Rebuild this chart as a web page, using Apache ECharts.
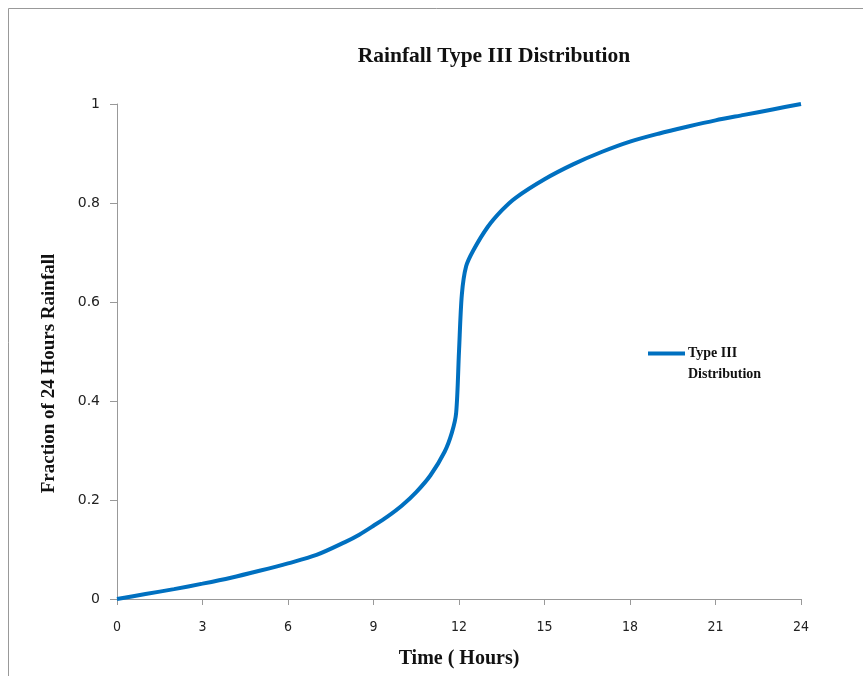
<!DOCTYPE html>
<html>
<head>
<meta charset="utf-8">
<script src="https://cdn.jsdelivr.net/npm/echarts@6/dist/echarts.min.js"></script>
<style>html,body{margin:0;padding:0;background:#fff;}#c{width:863px;height:676px;}</style>
</head>
<body>
<div id="c"></div>
<script>
const hours = [0,1,2,3,4,5,6,7,8,8.5,9,9.5,10,10.5,11,11.5,11.75,11.9,12,12.1,12.25,12.5,13,13.5,14,15,16,17,18,19,20,21,22,23,24];
const fraction = [0,0.010,0.020,0.031,0.043,0.057,0.072,0.089,0.115,0.130,0.148,0.167,0.189,0.216,0.250,0.298,0.336,0.376,0.500,0.615,0.672,0.704,0.751,0.785,0.811,0.848,0.878,0.903,0.924,0.940,0.954,0.967,0.978,0.989,1.000];
const xTicks = [0,3,6,9,12,15,18,21,24];
const yTicks = [0,0.2,0.4,0.6,0.8,1];
const seriesName = 'Type III Distribution';

const chart = echarts.init(document.getElementById('c'), null, {renderer:'canvas'});
chart.setOption({
  backgroundColor:'#fff',
  animation:false,
  title:{
    text:'Rainfall Type III Distribution',
    left:489, top:40, textAlign:'center',
    textStyle:{fontFamily:'Liberation Serif', fontWeight:'bold', fontSize:21.5, color:'#111'}
  },
  legend:{
    left:643, top:317, orient:'vertical',
    itemWidth:37, itemHeight:4, itemGap:0,
    icon:'rect',
    formatter:function(){return '\u00a0\nType III\nDistribution';},
    textStyle:{fontFamily:'Liberation Serif', fontWeight:'bold', fontSize:14, color:'#111', lineHeight:21, padding:[0,0,0,-2]},
    data:[{name:seriesName, itemStyle:{color:'#0070C0'}}]
  },
  grid:{left:117, right:62, top:104, bottom:77, outerBoundsMode:'none', containLabel:false},
  xAxis:{
    type:'value', min:0, max:24, interval:3,
    name:'Time ( Hours)', nameLocation:'middle', nameGap:50,
    nameTextStyle:{fontFamily:'Liberation Serif', fontWeight:'bold', fontSize:20, color:'#111'},
    axisLine:{lineStyle:{color:'#999', width:1}},
    axisTick:{show:true, length:6, lineStyle:{color:'#999'}},
    axisLabel:{margin:21, fontFamily:'DejaVu Sans Condensed', fontSize:14, color:'#222',
      formatter:function(v){return xTicks.indexOf(v)>=0 ? String(v) : '';}},
    splitLine:{show:false}
  },
  yAxis:{
    type:'value', min:0, max:1, interval:0.2,
    name:'Fraction of 24 Hours Rainfall', nameLocation:'middle', nameGap:58, nameRotate:90,
    nameTextStyle:{fontFamily:'Liberation Serif', fontWeight:'bold', fontSize:19, color:'#111', padding:[0,44,0,0]},
    axisLine:{show:true, lineStyle:{color:'#999', width:1}},
    axisTick:{show:true, length:7, lineStyle:{color:'#999'}},
    axisLabel:{margin:17, fontFamily:'DejaVu Sans', fontSize:14, color:'#222',
      formatter:function(v){const r=Math.round(v*10)/10; return yTicks.indexOf(r)>=0 ? String(r) : '';}},
    splitLine:{show:false}
  },
  graphic:[{
    type:'rect', shape:{x:8.5, y:8.5, width:900, height:700},
    style:{fill:'none', stroke:'#999', lineWidth:1}, silent:true, z:-10
  }],
  series:[{
    name:seriesName, type:'line',
    data:hours.map((h,i)=>[h,fraction[i]]),
    smooth:0.3, showSymbol:false, symbol:'none',
    lineStyle:{color:'#0070C0', width:4}, itemStyle:{color:'#0070C0'}
  }]
});
</script>
</body>
</html>
